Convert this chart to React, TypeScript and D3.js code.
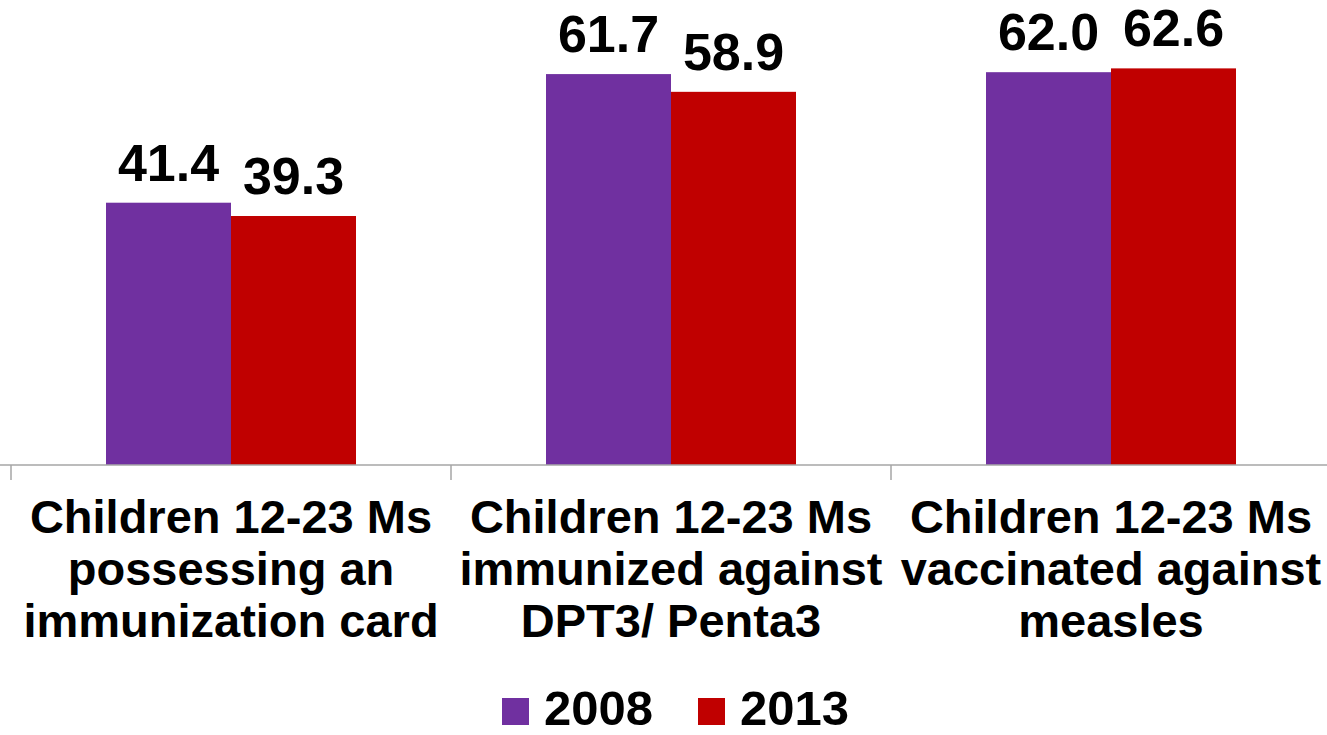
import React from "react";
import * as d3 from "d3";

const categories = [
  ["Children 12-23 Ms", "possessing an", "immunization card"],
  ["Children 12-23 Ms", "immunized against", "DPT3/ Penta3"],
  ["Children 12-23 Ms", "vaccinated against", "measles"],
];
const years = ["2008", "2013"];
const values2008 = [41.4, 61.7, 62.0];
const values2013 = [39.3, 58.9, 62.6];
const colors = ["#7030A0", "#C00000"];

const width = 1327;
const height = 735;
const baseY = 465;
const font = "'Liberation Sans', Arial, sans-serif";

export default function App() {
  const keys = categories.map((_, i) => String(i));
  const x0 = d3.scaleBand().domain(keys).range([11, 1331]).padding(0);
  const x1 = d3.scaleBand().domain(years).range([95, 345]).padding(0);
  const y = d3.scaleLinear().domain([0, 70]).range([baseY, 21.5]);

  const series = [values2008, values2013];
  const tickXs = keys.map((k) => x0(k));

  return (
    <svg
      width={width}
      height={height}
      style={{ position: "absolute", left: 0, top: 0, background: "#fff" }}
      fontFamily={font}
      fontWeight="bold"
    >
      {/* bars + value labels */}
      {keys.map((k, i) => (
        <g key={k} transform={`translate(${x0(k)},0)`}>
          {years.map((yr, j) => {
            const v = series[j][i];
            return (
              <g key={yr}>
                <rect
                  x={x1(yr)}
                  y={y(v)}
                  width={x1.bandwidth()}
                  height={baseY - y(v)}
                  fill={colors[j]}
                />
                <text
                  x={x1(yr) + x1.bandwidth() / 2}
                  y={y(v) - 22}
                  textAnchor="middle"
                  fontSize={52}
                  fill="#000"
                >
                  {v.toFixed(1)}
                </text>
              </g>
            );
          })}
        </g>
      ))}

      {/* category axis */}
      <line x1={0} x2={width} y1={baseY} y2={baseY} stroke="#A6A6A6" strokeWidth={1.5} />
      {tickXs.map((tx, i) => (
        <line key={i} x1={tx} x2={tx} y1={baseY} y2={baseY + 15} stroke="#A6A6A6" strokeWidth={1.5} />
      ))}

      {keys.map((k, i) => (
        <text
          key={k}
          x={x0(k) + x0.bandwidth() / 2}
          y={533}
          textAnchor="middle"
          fontSize={47}
          fill="#000"
        >
          {categories[i].map((line, li) => (
            <tspan key={li} x={x0(k) + x0.bandwidth() / 2} dy={li === 0 ? 0 : 52}>
              {line}
            </tspan>
          ))}
        </text>
      ))}

      {/* legend */}
      {years.map((yr, j) => (
        <g key={yr} transform={`translate(${502 + j * 196},698)`}>
          <rect width={27} height={27} fill={colors[j]} />
          <text x={42} y={27} fontSize={49} fill="#000">
            {yr}
          </text>
        </g>
      ))}
    </svg>
  );
}
